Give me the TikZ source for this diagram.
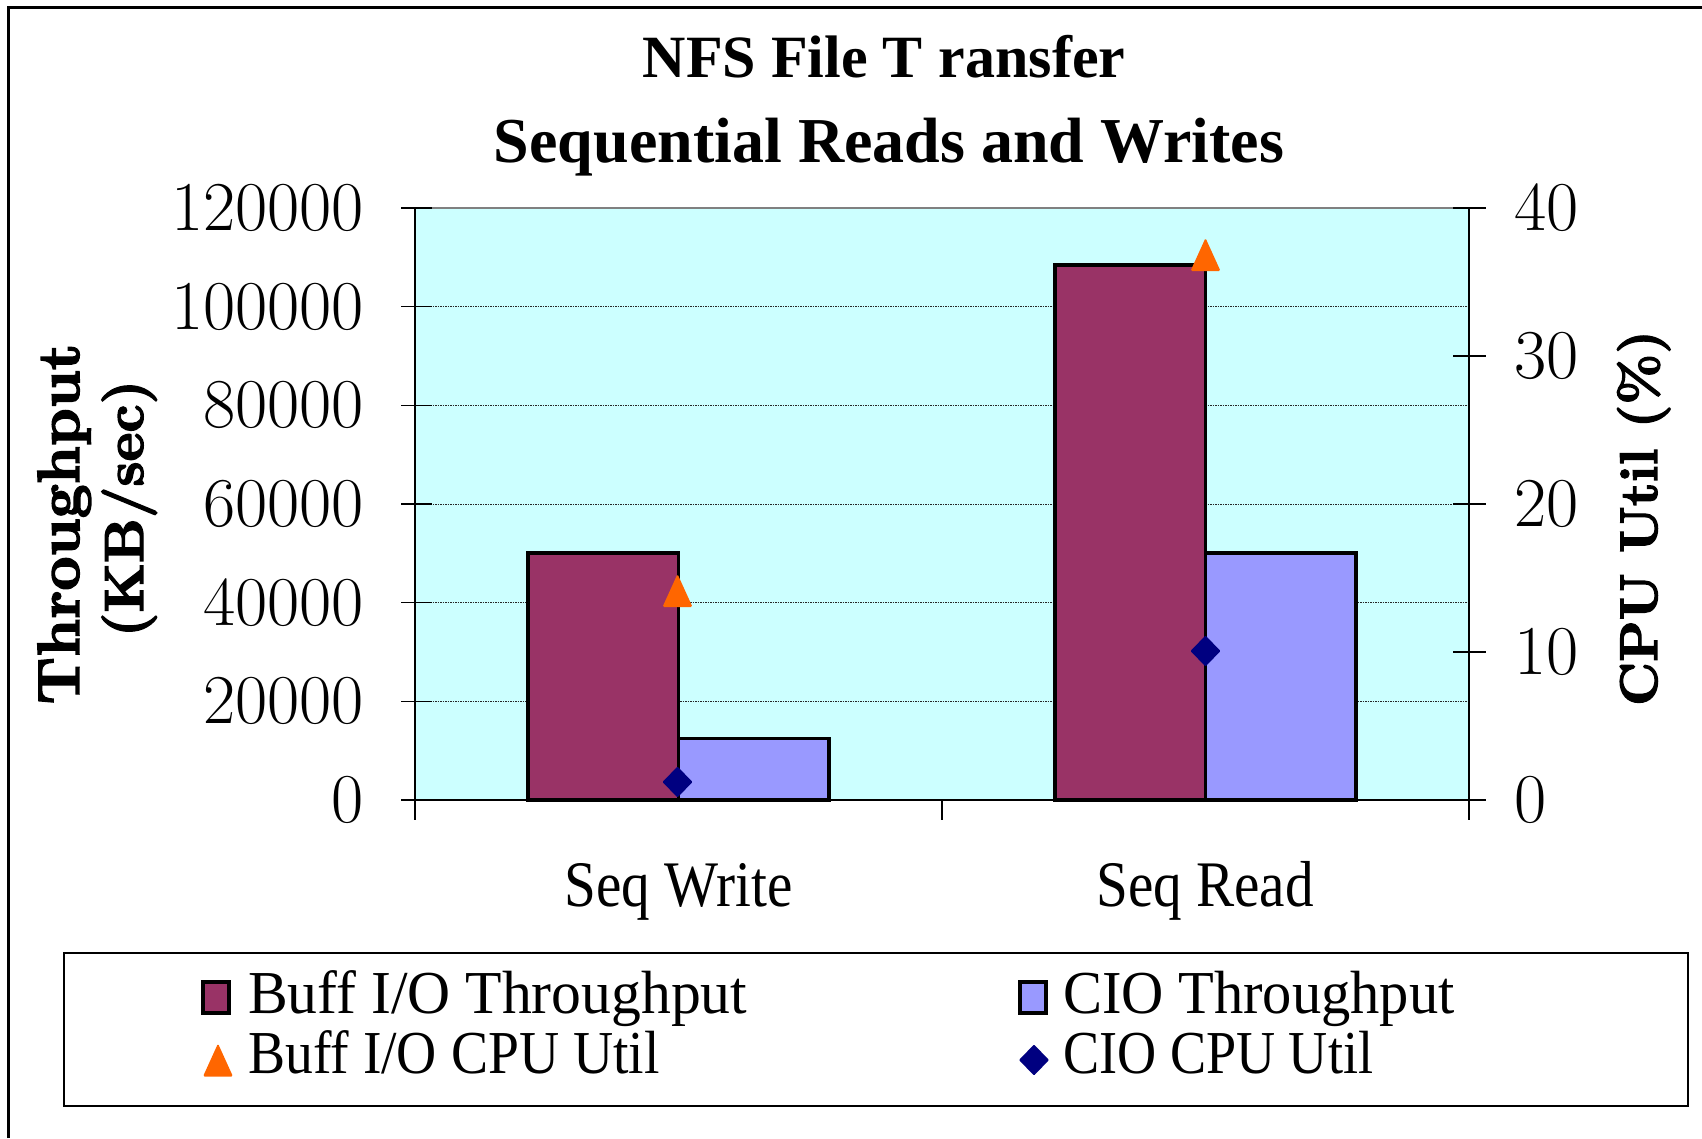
\documentclass[tikz,border=0pt]{standalone}
\usepackage{fontspec}
\newfontfamily\lblfont[FakeStretch=0.88]{Liberation Serif}
\newfontfamily\legfont[FakeStretch=0.94]{Liberation Serif}
\newfontfamily\ttlfont{Liberation Serif}
\newfontfamily\axfont[FakeBold=2.5]{lmroman10-bold.otf}
\definecolor{plumbar}{HTML}{993366}
\definecolor{lavbar}{HTML}{9999FF}
\definecolor{plotbg}{HTML}{CCFFFF}
\definecolor{orngmk}{HTML}{FF6600}
\definecolor{navymk}{HTML}{000080}
\tikzset{
  ticklbl/.style={font=\fontsize{70}{72}\selectfont, inner sep=0},
  axttl/.style={rotate=90, inner sep=0, anchor=base},
  catlbl/.style={font=\lblfont\fontsize{65}{70}\selectfont, inner sep=0, anchor=base},
  legtxt/.style={font=\legfont\fontsize{61}{65}\selectfont, inner sep=0, anchor=base west},
  ttltxt/.style={inner sep=0, anchor=base},
  barbuff/.style={fill=plumbar, draw=black, line width=3.8pt},
  barcio/.style={fill=lavbar, draw=black, line width=3.8pt},
  gridln/.style={black!85, line width=1pt, dash pattern=on 1.5pt off 1pt},
  axisln/.style={black, line width=1.3pt},
  buffmark/.pic={\fill[orngmk, rounded corners=1.5pt] (-15,16.5) -- (0,-16.5) -- (15,16.5) -- cycle;},
  ciomark/.pic={\fill[navymk, rounded corners=1pt] (0,-15.5) -- (15,0) -- (0,15.5) -- (-15,0) -- cycle;}
}
\begin{document}
\begin{tikzpicture}[x=1pt, y=-1pt]
\useasboundingbox (0,0) rectangle (1702,1138);
\fill[white] (0,0) rectangle (1702,1138);
% outer frame (cut off at right and bottom)
\draw[line width=2.5pt] (8.5,1138) -- (8.5,7.5) -- (1702,7.5);

% title
\node[ttltxt, font=\ttlfont\bfseries\fontsize{60}{62}\selectfont] (title1) at (884,77) {NFS File T\kern16pt ransfer};
\node[ttltxt, font=\ttlfont\bfseries\fontsize{64}{66}\selectfont] (title2) at (889,162) {Sequential Reads and Writes};

% plot area
\fill[plotbg] (415,208) rectangle (1469,800);
\foreach \yy in {701.33,602.67,504,405.33,306.67}
  \draw[gridln] (415,\yy) -- (1469,\yy);
\draw[gray, line width=2.5pt] (415,208) -- (1469,208);
\draw[gray, line width=2.5pt] (415,208) -- (415,800);

% bars
\draw[barbuff] (528,800) rectangle (678.5,553);
\draw[barcio] (678.5,800) rectangle (829,738.5);
\draw[barbuff] (1055,800) rectangle (1205.5,265);
\draw[barcio] (1205.5,800) rectangle (1356,553);

% axes
\draw[axisln] (415,208) -- (415,820);
\draw[axisln] (1469,208) -- (1469,820);
\draw[axisln] (415,800) -- (1469,800);
\draw[axisln] (942,800) -- (942,820);
\foreach \yy in {800,701.33,602.67,504,405.33,306.67,208}
  \draw[axisln] (401,\yy) -- (432,\yy);
\foreach \yy in {800,652,504,356,208}
  \draw[axisln] (1453,\yy) -- (1486,\yy);

% markers
\pic at (677.5,590.5) {buffmark};
\pic at (1205.5,254.5) {buffmark};
\pic at (677.5,782) {ciomark};
\pic at (1205.5,651) {ciomark};

% left tick labels
\node[ticklbl, anchor=east] (l0) at (364,800) {0};
\node[ticklbl, anchor=east] (l1) at (364,701.33) {20000};
\node[ticklbl, anchor=east] (l2) at (364,602.67) {40000};
\node[ticklbl, anchor=east] (l3) at (364,504) {60000};
\node[ticklbl, anchor=east] (l4) at (364,405.33) {80000};
\node[ticklbl, anchor=east] (l5) at (364,306.67) {100000};
\node[ticklbl, anchor=east] (l6) at (364,208) {120000};

% right tick labels
\node[ticklbl, anchor=west] (r0) at (1514,800) {0};
\node[ticklbl, anchor=west] (r1) at (1514,652) {10};
\node[ticklbl, anchor=west] (r2) at (1514,504) {20};
\node[ticklbl, anchor=west] (r3) at (1514,356) {30};
\node[ticklbl, anchor=west] (r4) at (1514,208) {40};

% axis titles
\node[axttl, font=\axfont\fontsize{59.5}{62}\selectfont] (ytitleA) at (79,524) {Throughput};
\node[axttl, font=\axfont\fontsize{55}{58}\selectfont] (ytitleB) at (143,508.5) {(KB/sec)};
\node[axttl, font=\axfont\fontsize{53}{56}\selectfont] (ytitleR) at (1657,518) {CPU Util (\%)};

% category labels
\node[catlbl] (catW) at (678.5,906) {Seq Write};
\node[catlbl] (catR) at (1205,906) {Seq Read};

% legend
\draw[line width=2.5pt] (64,953) rectangle (1688,1106);
\draw[fill=plumbar, line width=4.5pt] (203,982) rectangle (229,1013);
\draw[fill=lavbar, line width=4.5pt] (1020,982) rectangle (1046,1013);
\pic at (218,1060) {buffmark};
\pic at (1034,1060) {ciomark};
\node[legtxt] (legA) at (248,1013) {\scalebox{1.04}[1]{Buff I/O Throughput}};
\node[legtxt] (legB) at (1063,1013) {\scalebox{1.02}[1]{CIO Throughput}};
\node[legtxt] (legC) at (248,1073) {\scalebox{0.97}[1]{Buff I/O CPU Util}};
\node[legtxt] (legD) at (1063,1073) {\scalebox{0.945}[1]{CIO CPU Util}};
\end{tikzpicture}
\end{document}
